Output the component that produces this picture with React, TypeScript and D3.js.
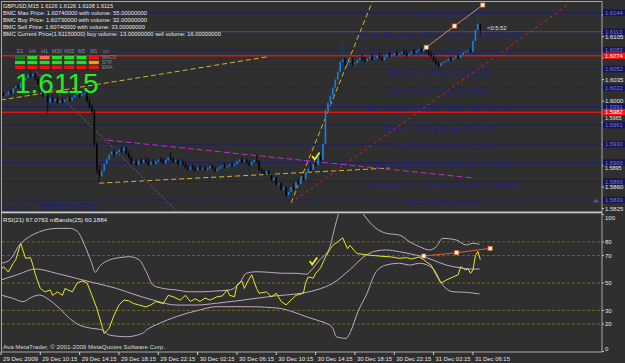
import React from 'react';
import * as d3 from 'd3';

const W = 625;
const H = 363;

// OHLC per M15 bar, as price codes: price = 1.58 + code / 10000
const ohlc: number[][] = [
  [210,214,206,212],[212,216,209,209],[209,213,205,211],[211,217,209,215],[215,219,212,213],
  [213,222,212,221],[221,226,218,224],[224,229,220,222],[222,232,221,230],[230,236,227,234],
  [234,240,230,238],[238,245,235,243],[243,249,239,241],[241,247,236,244],[244,246,234,236],
  [236,240,226,228],[228,232,216,218],[218,222,206,209],[209,214,200,211],[211,213,181,198],
  [198,208,195,205],[205,210,198,200],[200,206,196,203],[203,207,195,197],[197,203,192,201],
  [201,206,196,199],[199,204,193,202],[202,207,197,204],[204,209,199,201],[201,208,198,206],
  [206,212,203,210],[210,216,206,213],[213,217,205,208],[208,215,204,212],[212,218,207,214],
  [214,216,198,200],[200,204,188,190],[190,195,180,183],[183,186,125,130],[130,134,82,88],
  [88,96,70,78],[78,90,68,86],[86,100,84,98],[98,108,95,105],[105,116,101,113],
  [113,121,108,118],[118,123,110,114],[114,120,108,117],[117,124,113,121],[121,126,116,119],
  [119,127,115,124],[124,126,112,115],[115,119,106,108],[108,111,96,99],[99,104,92,101],
  [101,106,94,97],[97,105,95,103],[103,108,98,100],[100,106,96,104],[104,109,99,102],
  [102,107,95,97],[97,103,93,101],[101,105,96,98],[98,104,94,102],[102,108,99,105],
  [105,109,100,103],[103,107,97,99],[99,105,96,104],[104,110,101,108],[108,117,104,106],
  [106,109,99,101],[101,106,97,103],[103,107,96,98],[98,104,93,100],[100,105,95,97],
  [97,101,90,92],[92,96,86,89],[89,95,86,93],[93,97,87,90],[90,94,85,88],
  [88,95,86,92],[92,96,87,89],[89,94,85,91],[91,95,86,88],[88,93,84,90],
  [90,96,87,94],[94,97,88,90],[90,94,84,86],[86,92,83,90],[90,95,87,93],
  [93,98,89,95],[95,99,90,92],[92,96,87,94],[94,99,91,97],[97,101,92,95],
  [95,100,91,98],[98,104,95,102],[102,107,98,105],[105,109,99,101],[101,106,96,103],
  [103,108,98,100],[100,104,93,96],[96,103,94,101],[101,106,97,104],[104,113,100,102],
  [102,104,86,88],[88,92,82,85],[85,89,79,82],[82,88,79,86],[86,88,78,80],
  [80,83,70,72],[72,78,68,75],[75,77,62,64],[64,70,58,66],[66,68,54,56],
  [56,62,50,59],[59,61,44,47],[47,55,42,52],[52,62,50,60],[60,66,55,58],
  [58,70,56,68],[68,74,62,65],[65,78,63,76],[76,82,70,73],[73,86,71,84],
  [84,92,80,90],[90,97,86,88],[88,100,85,98],[98,106,94,96],[96,112,95,110],
  [110,116,101,104],[104,133,102,130],[130,188,128,185],[185,200,180,197],[197,212,192,209],
  [209,226,205,222],[222,238,218,235],[235,252,231,248],[248,268,244,264],[264,296,258,268],
  [268,272,256,259],[259,266,253,263],[263,270,258,266],[266,271,257,260],[260,265,254,262],
  [262,269,259,267],[267,273,262,270],[270,276,265,268],[268,272,262,265],[265,271,261,269],
  [269,275,264,272],[272,277,266,268],[268,273,263,270],[270,276,267,274],[274,279,268,271],
  [271,275,265,267],[267,274,264,272],[272,278,269,276],[276,280,270,273],[273,277,268,275],
  [275,281,272,278],[278,282,273,275],[275,280,271,277],[277,283,274,280],[280,284,275,278],
  [278,282,272,274],[274,279,270,277],[277,283,274,281],[281,285,276,279],[279,284,275,282],
  [282,287,278,284],[284,288,279,281],[281,287,278,285],[285,290,279,282],[282,286,274,276],
  [276,281,270,273],[273,277,264,266],[266,270,258,261],[261,265,254,257],[257,264,255,262],
  [262,266,258,264],[264,269,260,266],[266,271,262,269],[269,273,264,267],[267,272,263,270],
  [270,275,266,273],[273,277,268,271],[271,277,269,275],[275,281,272,279],[279,284,276,281],
  [281,285,277,283],[283,286,278,280],[280,300,279,298],[298,318,296,316],[316,344,312,326],
  [326,326,308,315],
];

// RSI(21): [bar, value]
const rsiPts: number[][] = [
  [0,59.5],[1,62],[3,58],[5,64.5],[6,67],[8,79],[10,68],[12,68.5],[13,63],[14,56],[16,46],[18,43.5],
  [20,45],[21,41],[23,43.5],[25,41],[26,46],[29,43.5],[31,50],[33,51.5],[35,50],[37,41],[39,31.5],
  [41,19],[42,13],[44,17],[46,26.5],[48,34],[50,37.5],[52,37],[54,35],[56,34],[59,32.5],[61,34],
  [63,36.5],[66,35],[68,41],[70,40],[73,37.5],[75,41],[77,36.5],[79,38.5],[81,36.5],[83,39],
  [85,37.5],[88,40],[90,40.5],[92,45],[93,41],[95,40],[96,48.5],[98,51.5],[99,46],[100,50],
  [102,56],[104,46],[105,42.5],[108,43.5],[110,40],[112,42.5],[114,36.5],[116,34],[118,37.5],
  [120,41],[123,42.5],[124,50.5],[125,54.5],[127,53.5],[128,57],[130,61],[132,69],[134,75],
  [135,77.5],[137,80],[139,83],[140,79],[141,75],[142,77.5],[144,73],[145,71.5],[149,70.5],
  [152,70],[155,69.5],[159,69],[162,68],[165,68.5],[167,67.5],[170,69],[172,67],[173,65.5],
  [175,63],[177,56],[179,50],[181,52],[184,54.5],[186,56],[187,62],[189,59.5],[190,60.5],
  [191,57],[192,59.5],[193,70],[194,73],[195,67.1],
];

// Bollinger bands on RSI (25)
const bbUpper: number[][] = [
  [0,64.4],[3.5,66.8],[7.5,77.7],[11.6,83.8],[15.7,87.4],[19.7,89.4],[23.8,89.9],[27.9,89.9],
  [31.2,87.4],[34,77.7],[36.7,65.5],[38.4,57.8],[40,61.9],[44.1,66.8],[48.2,68.5],[52.3,69.2],
  [56.3,66.8],[59.1,58.2],[61.8,48.5],[65.8,46.1],[71.3,44.9],[76.7,43.6],[82.1,43.6],[87.6,44.2],
  [93,44.9],[97,49.8],[99.8,57.1],[103.8,58.2],[109.2,57.8],[114.6,57.1],[120.1,57.1],[124.2,56.4],
  [126.9,60.7],[129.6,66.8],[133.6,75.4],[136,92],[138,104],[142,112],[145,108],[147.2,101],
  [152.6,89.9],[156.7,86.3],[162.1,85],[166.2,80.1],[170.3,76.5],[174.3,74.1],[177.1,76.5],
  [179.7,82.6],[185.2,81.4],[189.3,77.7],[191.9,79],[194.7,78.2],
];
const bbMiddle: number[][] = [
  [0,52.2],[6.2,55.8],[14.3,60.2],[22.5,57.1],[30.6,53.4],[38.7,49.8],[46.9,46.1],[55,41.2],
  [63.1,36.9],[71.3,33.9],[79.4,33.9],[87.6,35.2],[95.7,36.9],[103.8,38.8],[112,40.7],[120.1,42],
  [128.2,44.9],[135,49.8],[141.8,59.5],[148.6,70.4],[152.6,73.4],[156.7,74.1],[162.1,72.8],
  [167.5,70.9],[171.6,69.2],[175.7,66.8],[181.1,63.1],[186.5,61.2],[190.6,60.2],[194.7,60.2],
];
const bbLower: number[][] = [
  [0,41.2],[4.8,38.8],[8.9,36.4],[12.9,40],[15.7,41.2],[19.7,37.6],[23.8,31.5],[27.9,24.2],
  [31.9,19.3],[36,17.2],[41.3,15.7],[44.1,12],[51,10.8],[57.6,13.3],[59.2,15.7],[64.5,20.6],
  [71.3,25.4],[80.8,30.3],[87.6,32.7],[101.1,32.7],[113.3,31.5],[118.7,29],[124.2,25.4],
  [129.6,22.3],[132.3,20.6],[135,17],[136.4,10.8],[140.4,9.6],[142.5,15.7],[145.2,29],
  [148.6,41.2],[152.6,58.2],[156.7,63.1],[162.1,64.4],[166.2,63.1],[170.3,64.4],[175.7,60.7],
  [179.7,48.5],[183.8,43.6],[189.3,43.2],[194.7,42],
];

const headerLines = [
  'GBPUSD,M15  1.6126 1.6126 1.6108 1.6115',
  'BMC Max Price: 1.60740000 with volume: 55.00000000',
  'BMC Buy Price: 1.60730000 with volume: 32.00000000',
  'BMC Sell Price: 1.60740000 with volume: 33.00000000',
  'BMC Current Price(1.61150000) buy volume: 13.00000000 sell volume: 16.00000000',
];
const headerWidths = [110, 144, 144, 142, 218];

const murreyPrices = [1.6144, 1.6113, 1.6083, 1.6052, 1.6022, 1.5991, 1.5961, 1.5930, 1.5900, 1.5869, 1.5839];
const murreyLabels = [
  'Overshoot +1/8  (1.6144)',
  'Ultimate Resistance - Extremely Overbought 8/8  (1.6113)',
  'Weak, Stall and Reverse 7/8  (1.6083)',
  'Strong, Pivot, Reverse 6/8  (1.6052)',
  'Top of Trading Range 5/8  (1.6022)',
  'Major Support/Resistance Pivotal Point 4/8  (1.5991)',
  'Bottom of Trading Range 3/8  (1.5961)',
  'Strong, Pivot, Reverse 2/8  (1.5930)',
  'Weak, Stall and Reverse 1/8  (1.5900)',
  'Ultimate Support - Extremely Oversold 0/8  (1.5869)',
  'Overshoot -1/8  (1.5839)',
];
const murreyLabelWidths = [63, 167, 142, 103, 100, 153, 115, 105, 137, 153, 73];
const redPrices = [1.6074, 1.5982];
// tick values of the price scale; the ones under a level box are not visible
const priceTicks = [1.6140, 1.6105, 1.6070, 1.6035, 1.6000, 1.5965, 1.5930, 1.5895, 1.5860, 1.5825];
const hiddenTicks = [1.6140, 1.6070, 1.5930];

const timeLabels = [
  '29 Dec 2009', '29 Dec 10:15', '29 Dec 14:15', '29 Dec 18:15', '29 Dec 22:15',
  '30 Dec 02:15', '30 Dec 06:15', '30 Dec 10:15', '30 Dec 14:15', '30 Dec 18:15',
  '30 Dec 22:15', '31 Dec 02:15', '31 Dec 06:15',
];
const barsPerLabel = 16;

const rsiLevels = [80, 70, 50, 30, 20];
const rsiAxisLabels = [100, 80, 70, 50, 30, 20, 0];

const tfNames = ['D1', 'H4', 'H1', 'M30', 'M15', 'M5', 'M1'];
const sigNames = ['MACD', 'STR', 'EMA'];
const sigColors = [
  ['#1d7a1d', '#22e022', '#ff6b4a', '#22e022', '#22e022', '#22e022', '#ee1111'],
  ['#22e022', '#22e022', '#22e022', '#22e022', '#22e022', '#22e022', '#ff9a00'],
  ['#ee1111', '#ee1111', '#ee1111', '#ee1111', '#ee1111', '#ee1111', '#ee1111'],
];

// trend lines: [bar1, price1, bar2, price2]
const yellowLines = [
  [0, 1.60018, 108, 1.60719],
  [40, 1.58664, 158, 1.5891],
  [118, 1.58342, 151, 1.61614],
];
const redTrend = [118, 1.58342, 230.5, 1.61565];
const magentaLines = [
  [14.4, 1.60474, 71.8, 1.58196],
  [43.3, 1.59365, 192.6, 1.58747],
];
const salmonPts = [[173, 1.60877], [184.5, 1.61223], [196, 1.61565]];
const rsiTrendPts = [[172, 69.7], [185.4, 72.1], [199, 75.3]];

const BG = '#2f2f2f';
const NAVY = '#1e1e68';
const FONT = '"Liberation Sans", Arial, sans-serif';

export default function App() {
  const xs = d3.scaleLinear().domain([0, 100]).range([1, 246.8]);
  const yp = d3.scaleLinear().domain([1.5825, 1.6144]).range([208.6, 12.7]);
  const yr = d3.scaleLinear().domain([0, 100]).range([351.5, 214.5]);
  const P = (c: number) => 1.58 + c / 10000;

  const rsiLine = d3.line<number[]>().x(d => xs(d[0])).y(d => yr(d[1]));
  const bandLine = d3.line<number[]>().x(d => xs(d[0])).y(d => yr(d[1])).curve(d3.curveMonotoneX);
  const pLine = d3.line<number[]>().x(d => xs(d[0])).y(d => yp(d[1]));
  const rLine = d3.line<number[]>().x(d => xs(d[0])).y(d => yr(d[1]));

  const check = (cx: number, cy: number) => `M${cx - 3.5},${cy - 1} L${cx - 1},${cy + 2.5} L${cx + 4},${cy - 4.5}`;

  const tickBaseline = (p: number) => {
    if (p === 1.5965) return yp(p) - 2.4;
    if (p === 1.5895) return yp(p) + 4.6;
    return yp(p) + 2.2;
  };

  return (
    <svg width={W} height={H} style={{ position: 'absolute', left: 0, top: 0, background: BG }} fontFamily={FONT}>
      <defs>
        <clipPath id="mainClip"><rect x={2} y={2} width={600} height={209} /></clipPath>
        <clipPath id="rsiClip"><rect x={2} y={214} width={600} height={137} /></clipPath>
      </defs>
      <rect x={0} y={0} width={W} height={H} fill={BG} />

      {/* ---------- MAIN PANEL ---------- */}
      <g clipPath="url(#mainClip)">
        {murreyPrices.map((p, k) => (
          <line key={'ml' + k} x1={0} x2={602} y1={yp(p)} y2={yp(p)}
            stroke={k === 1 ? '#4a4a92' : NAVY} strokeWidth={1}
            strokeDasharray={k >= 2 && k <= 4 ? '2,1' : undefined} />
        ))}
        {murreyLabels.map((t, k) => (
          <text key={'mt' + k} x={441} y={yp(murreyPrices[k]) + 5.5} fontSize={6.3} fill="#24247a"
            textAnchor="middle" textLength={murreyLabelWidths[k]} lengthAdjust="spacingAndGlyphs">{t}</text>
        ))}
        {redPrices.map((p, k) => (
          <line key={'rl' + k} x1={0} x2={602} y1={yp(p)} y2={yp(p)} stroke="#e01515" strokeWidth={1.6} />
        ))}

        {yellowLines.map((l, k) => (
          <path key={'yl' + k} d={pLine([[l[0], l[1]], [l[2], l[3]]]) || ''} stroke="#d8b428" strokeWidth={1}
            strokeDasharray="5,3" fill="none" />
        ))}
        <path d={pLine([[redTrend[0], redTrend[1]], [redTrend[2], redTrend[3]]]) || ''} stroke="#d42020"
          strokeWidth={1} strokeDasharray="3,3" fill="none" />
        {magentaLines.map((l, k) => (
          <path key={'mg' + k} d={pLine([[l[0], l[1]], [l[2], l[3]]]) || ''} stroke="#c030c0" strokeWidth={1}
            strokeDasharray={k === 0 ? '2,2' : '6,3'} fill="none" />
        ))}

        {ohlc.map((d, i) => {
          const [o, h, l, c] = d;
          const x = xs(i);
          const up = c >= o;
          const col = up ? '#1e7fe0' : '#050505';
          const yTop = yp(P(Math.max(o, c)));
          const yBot = yp(P(Math.min(o, c)));
          return (
            <g key={'b' + i}>
              <line x1={x} x2={x} y1={yp(P(h))} y2={yp(P(l))} stroke={up ? '#10487c' : '#050505'} strokeWidth={0.8} />
              <rect x={x - 0.8} y={yTop} width={1.6} height={Math.max(0.8, yBot - yTop)} fill={col} />
            </g>
          );
        })}

        <path d={pLine(salmonPts) || ''} stroke="#d08a64" strokeWidth={1} fill="none" />
        {salmonPts.map((p, k) => (
          <rect key={'sp' + k} x={xs(p[0]) - 2} y={yp(p[1]) - 2} width={4} height={4} fill="#ffffff" stroke="#e07a40" strokeWidth={0.8} />
        ))}
        <path d={check(xs(128), yp(1.5909))} stroke="#f4f020" strokeWidth={1.8} fill="none" />
      </g>

      {/* header texts */}
      {headerLines.map((t, k) => (
        <text key={'h' + k} x={3} y={8 + k * 7} fontSize={6} fill="#e8e8e8" textLength={headerWidths[k]}
          lengthAdjust="spacingAndGlyphs">{t}</text>
      ))}

      {/* signal matrix */}
      {tfNames.map((t, k) => (
        <text key={'tf' + k} x={20 + k * 12.3} y={53} fontSize={5.2} fill="#8e8e8e" textAnchor="middle">{t}</text>
      ))}
      <text x={106} y={53} fontSize={5.2} fill="#777" textAnchor="middle">vpr</text>
      {sigColors.map((row, r) => row.map((c, k) => (
        <rect key={'sg' + r + '-' + k} x={15 + k * 12.3} y={56 + r * 4.8} width={10} height={3.4} fill={c} />
      )))}
      {sigNames.map((t, r) => (
        <text key={'sn' + r} x={102} y={59.3 + r * 4.8} fontSize={4.8} fill="#8a8a8a">{t}</text>
      ))}
      <text x={15} y={93} fontSize={28} fill="#22ee22">1.6115</text>

      <text x={487} y={29.5} fontSize={5.8} fill="#e0e0e0">{'<0:5:52'}</text>
      <text x={2} y={210} fontSize={6} fill="#24247a">Gratk 1.23</text>
      <text x={39} y={210} fontSize={10} fill="#1e1e88" fontFamily='"Liberation Mono", monospace' textLength={60}
        lengthAdjust="spacingAndGlyphs">MMPeriod=60</text>

      {/* price axis */}
      {priceTicks.map((p, k) => (
        <g key={'pt' + k}>
          <line x1={602} x2={604} y1={yp(p)} y2={yp(p)} stroke="#d0d0d0" />
          {hiddenTicks.indexOf(p) < 0 && (
            <text x={605} y={tickBaseline(p)} fontSize={p === 1.5965 || p === 1.5895 ? 5.4 : 6} fill="#e4e4e4">{p.toFixed(4)}</text>
          )}
        </g>
      ))}
      {murreyPrices.map((p, k) => (
        <g key={'pb' + k}>
          <rect x={603} y={yp(p) - 3.2} width={22} height={6.4} fill="#14145a" />
          <text x={605} y={yp(p) + 2.1} fontSize={5.8} fill="#7a7ac4">{p.toFixed(4)}</text>
        </g>
      ))}
      {redPrices.map((p, k) => (
        <g key={'rb' + k}>
          <rect x={603} y={yp(p) - 3.2} width={22} height={6.4} fill="#ff1010" />
          <text x={605} y={yp(p) + 2.1} fontSize={5.8} fill="#ffffff">{p.toFixed(4)}</text>
        </g>
      ))}
      <text x={596} y={203} fontSize={7} fill="#8a8a8a" textAnchor="middle">☠</text>

      {/* ---------- RSI PANEL ---------- */}
      <g clipPath="url(#rsiClip)">
        {rsiLevels.map((v, k) => (
          <line key={'rv' + k} x1={2} x2={602} y1={yr(v)} y2={yr(v)} stroke="#6a6a1c" strokeDasharray="3,2" strokeWidth={1} />
        ))}
        <path d={bandLine(bbUpper) || ''} stroke="#c4a8c4" strokeWidth={1} fill="none" />
        <path d={bandLine(bbMiddle) || ''} stroke="#c4a8c4" strokeWidth={1} fill="none" />
        <path d={bandLine(bbLower) || ''} stroke="#c4a8c4" strokeWidth={1} fill="none" />
        <path d={rsiLine(rsiPts) || ''} stroke="#e8e82a" strokeWidth={1} fill="none" />
        <path d={rLine(rsiTrendPts) || ''} stroke="#e0602c" strokeWidth={1} fill="none" />
        {rsiTrendPts.map((p, k) => (
          <rect key={'rp' + k} x={xs(p[0]) - 2} y={yr(p[1]) - 2} width={4} height={4} fill="#ffffff" stroke="#e07a40" strokeWidth={0.8} />
        ))}
        <path d={check(xs(127), yr(65.3))} stroke="#f4f020" strokeWidth={1.8} fill="none" />
      </g>
      <text x={3} y={222} fontSize={6} fill="#e8e8e8" textLength={104} lengthAdjust="spacingAndGlyphs">
        RSI(21) 67.0763  mBands(25) 60.1884
      </text>
      {rsiAxisLabels.map((v, k) => (
        <g key={'ra' + k}>
          <line x1={602} x2={604} y1={yr(v)} y2={yr(v)} stroke="#d0d0d0" />
          <text x={605} y={Math.min(351, Math.max(220, yr(v) + 2.2))} fontSize={6} fill="#e4e4e4">{v}</text>
        </g>
      ))}
      <text x={3} y={349} fontSize={6} fill="#d8d8d8" textLength={162} lengthAdjust="spacingAndGlyphs">
        Ava MetaTrader, © 2001-2009 MetaQuotes Software Corp.
      </text>

      {/* frames */}
      <rect x={1.5} y={1.5} width={600.5} height={350.5} fill="none" stroke="#a8a8a8" strokeWidth={1} />
      <rect x={1.5} y={211.5} width={600.5} height={1.8} fill="#c8c8c8" />

      {/* time axis */}
      {timeLabels.map((t, k) => {
        const x = xs(k * barsPerLabel);
        return (
          <g key={'tl' + k}>
            <line x1={x} x2={x} y1={352} y2={355} stroke="#d0d0d0" />
            <text x={x + 2} y={361} fontSize={6} fill="#e4e4e4" textLength={35} lengthAdjust="spacingAndGlyphs">{t}</text>
          </g>
        );
      })}
    </svg>
  );
}
